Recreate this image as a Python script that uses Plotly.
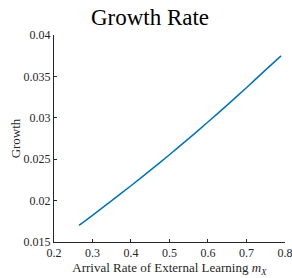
import plotly.graph_objects as go

arrival_rate = [0.265, 0.3, 0.35, 0.4, 0.45, 0.5, 0.55, 0.6, 0.65, 0.7, 0.75, 0.79]
growth = [0.0170, 0.01822, 0.0200, 0.0218, 0.02365, 0.02555, 0.0275, 0.0295, 0.03155, 0.03365, 0.0358, 0.0375]

x_ticks = [0.2, 0.3, 0.4, 0.5, 0.6, 0.7, 0.8]
x_tick_labels = ["0.2", "0.3", "0.4", "0.5", "0.6", "0.7", "0.8"]
y_ticks = [0.015, 0.02, 0.025, 0.03, 0.035, 0.04]
y_tick_labels = ["0.015", "0.02", "0.025", "0.03", "0.035", "0.04"]

font = "Liberation Serif"
tickfont = dict(family=font, size=12, color="#262626")

fig = go.Figure()
fig.add_trace(go.Scatter(x=arrival_rate, y=growth, mode="lines",
                         line=dict(color="#0072BD", width=1.5, shape="spline", smoothing=0.6),
                         showlegend=False))

fig.update_layout(
    width=292, height=278,
    margin=dict(l=54, r=7, t=35, b=36, autoexpand=False),
    paper_bgcolor="white", plot_bgcolor="white",
    font=dict(family=font, color="#262626", size=12),
    title=dict(text="Growth Rate", x=150/292, xanchor="center", y=1 - 25/278, yanchor="bottom",
               font=dict(family=font, size=23, color="black")),
    xaxis=dict(range=[0.2, 0.8003], tickvals=x_ticks, ticktext=x_tick_labels, tickfont=tickfont,
               showgrid=False, zeroline=False, showline=True, linecolor="#262626", linewidth=1,
               ticks="inside", ticklen=3, tickcolor="#262626", automargin=False,
               ticklabeloverflow="allow",
               title=dict(text="Arrival Rate of External Learning <i>m</i><sub><i>X</i></sub>",
                          standoff=0, font=dict(family=font, size=13, color="#262626"))),
    yaxis=dict(range=[0.015, 0.04002], tickvals=y_ticks, ticktext=y_tick_labels, tickfont=tickfont,
               showgrid=False, zeroline=False, showline=True, linecolor="#262626", linewidth=1,
               ticks="inside", ticklen=3, tickcolor="#262626", automargin=False,
               ticklabeloverflow="allow",
               title=dict(text="Growth", standoff=0, font=dict(family=font, size=13, color="#262626"))),
)

fig.write_html("out.html", config={"displayModeBar": False},
               post_script="document.body.style.margin='0';document.body.style.overflow='hidden';")
